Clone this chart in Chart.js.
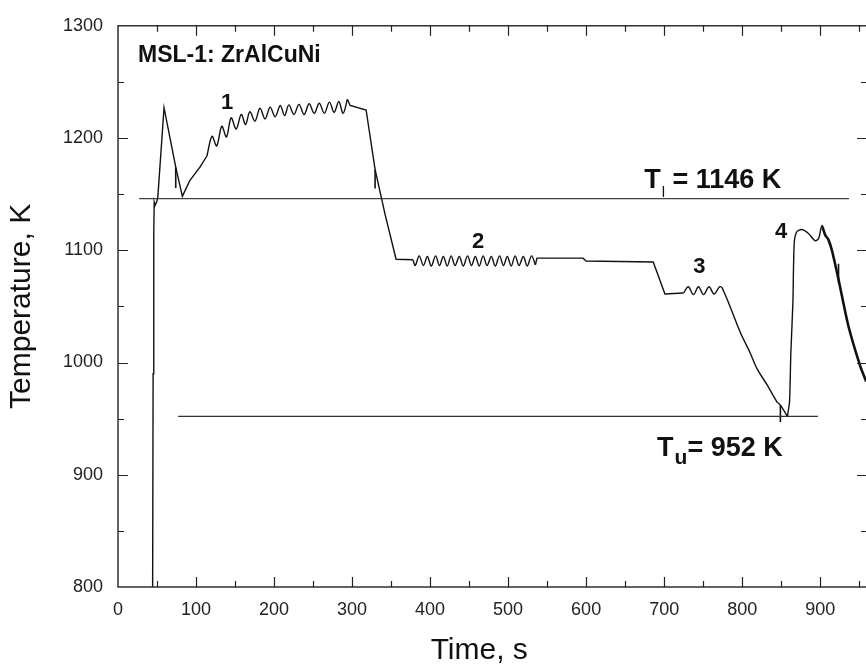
<!DOCTYPE html>
<html>
<head>
<meta charset="utf-8">
<script src="https://cdn.jsdelivr.net/npm/chart.js@4.4.1/dist/chart.umd.min.js"></script>
<style>
  html, body { margin: 0; padding: 0; background: #fff; overflow: hidden; }
  #wrap { width: 880px; height: 668px; }
</style>
</head>
<body>
<div id="wrap"><canvas id="msl1" width="880" height="668"></canvas></div>
<script>
// MSL-1 ZrAlCuNi sample temperature history, [time s, temperature K]
const rampUp = [
  [44.4, 800], [45, 990], [45.6, 1060], [46.1, 1116], [46.4, 1143], [47.5, 1140],
  [49.5, 1143], [51, 1147], [59, 1227], [74, 1174], [82.5, 1148], [92, 1162],
  [105, 1174], [114, 1184]
];
// stage 1: pulsed heating above liquidus
const hold1 = [
  [120.5, 1201.5], [126.5, 1193], [133, 1210.5], [139, 1201], [145, 1218], [151.5, 1208],
  [158, 1221], [163.5, 1212], [169, 1223.5], [175.5, 1215], [182, 1226.5], [188.5, 1217],
  [195, 1227.5], [201.5, 1219], [208, 1229], [213.5, 1220], [219, 1229.5], [225.5, 1221],
  [232, 1230], [238.5, 1221], [245, 1230.5], [251.5, 1222], [258, 1231], [264.5, 1222],
  [271, 1232], [277, 1223], [283, 1232.5], [288.5, 1222], [294, 1234.5]
];
const coolTo2 = [
  [297.5, 1229], [318, 1225], [329.5, 1172], [342.3, 1132], [356.4, 1092], [378, 1091.5]
];
// stage 2
const hold2 = [
  [381, 1086.5], [386, 1095], [391.5, 1086.5], [396.5, 1094.5], [401.5, 1086], [407, 1095],
  [412, 1086.5], [417, 1094.5], [422, 1086], [427, 1095], [432, 1086.5], [437.5, 1094.5],
  [442.5, 1086], [448, 1095], [453, 1086.5], [458, 1094.5], [463, 1086], [468, 1095],
  [473, 1086.5], [478.5, 1094.5], [483.5, 1086], [489, 1095], [494, 1086.5], [499, 1094.5],
  [504, 1086], [509, 1095], [514, 1086.5], [519.5, 1094.5], [524.5, 1086], [530, 1095],
  [535, 1087]
];
const coolTo3 = [
  [537, 1093], [596, 1093], [600, 1090.5], [686, 1089.5], [701, 1061], [725, 1062]
];
// stage 3
const hold3 = [
  [731, 1067.5], [737.5, 1060.5], [744, 1067.5], [750.5, 1060.5], [757.5, 1067.5],
  [764, 1061], [771, 1067.5], [774, 1067]
];
const freeCooling = [
  [781, 1056], [797.5, 1027], [810, 1009], [819, 994.5], [832, 980], [844.5, 965],
  [849, 962], [858, 952]
];
// stage 4: recalescence
const recalescence = [
  [860.7, 965], [862.4, 1009], [865, 1053], [866.7, 1106], [870, 1116.5], [876.5, 1118.5],
  [885, 1115], [893.5, 1108.5], [898, 1110.5], [902, 1121.5], [906.5, 1113.5], [910.5, 1109.5],
  [915, 1100], [923.5, 1074], [936, 1033], [951, 997.5], [959, 983]
];
// short vertical event marks on the trace: [time, from K, to K]
const eventMarks = [
  [74, 1174, 1155.5], [329.5, 1172, 1155], [849, 962, 947], [923.5, 1088, 1071]
];

const liquidusK = 1146;
const undercoolK = 952;
const liquidusSpan = [27, 937];
const undercoolSpan = [77, 897];

const stageNames = ['1', '2', '3', '4'];
const stageAt = [[139.7, 1231], [461.5, 1107], [745, 1085], [850, 1116]];

const FONT = "'Liberation Sans', Arial, Helvetica, sans-serif";
Chart.defaults.font.family = FONT;

// each piece of the trace is its own dataset so corners stay sharp
// while the oscillating holds are drawn smooth
const pieces = [
  [rampUp, 0], [hold1, 0.35], [coolTo2, 0], [hold2, 0.35],
  [coolTo3, 0], [hold3, 0.35], [freeCooling, 0.3], [recalescence, 0.25]
];
const datasets = [];
let prev = null;
pieces.forEach(([pts, tension]) => {
  const data = (prev ? [prev] : []).concat(pts).map(p => ({x: p[0], y: p[1]}));
  prev = pts[pts.length - 1];
  datasets.push({
    data: data,
    borderColor: '#111',
    borderWidth: 1.4,
    pointRadius: 0,
    tension: tension,
    segment: {
      borderWidth: ctx => (ctx.p0.parsed.x >= 902 ? 2.6 : 1.4)
    }
  });
});
datasets.push({
  data: liquidusSpan.map(t => ({x: t, y: liquidusK})),
  borderColor: '#444',
  borderWidth: 1.3,
  pointRadius: 0
});
datasets.push({
  data: undercoolSpan.map(t => ({x: t, y: undercoolK})),
  borderColor: '#333',
  borderWidth: 1.3,
  pointRadius: 0
});
eventMarks.forEach(m => {
  datasets.push({
    data: [{x: m[0], y: m[1]}, {x: m[0], y: m[2]}],
    borderColor: '#111',
    borderWidth: 1.6,
    pointRadius: 0
  });
});

// box, inward ticks on all four sides, and the text annotations
const frameAndLabels = {
  id: 'frameAndLabels',
  afterDatasetsDraw(chart) {
    const {ctx, chartArea: a, scales: {x, y}} = chart;
    ctx.save();
    ctx.strokeStyle = '#222';
    ctx.lineWidth = 1.4;
    ctx.strokeRect(a.left, a.top, a.right - a.left, a.bottom - a.top);

    ctx.lineWidth = 1.2;
    ctx.beginPath();
    for (let v = 50; v < 960; v += 50) {
      const len = v % 100 === 0 ? 10 : 6;
      const px = Math.round(x.getPixelForValue(v)) + 0.5;
      ctx.moveTo(px, a.bottom); ctx.lineTo(px, a.bottom - len);
      ctx.moveTo(px, a.top); ctx.lineTo(px, a.top + len);
    }
    for (let v = 850; v < 1300; v += 50) {
      const len = v % 100 === 0 ? 10 : 6;
      const py = Math.round(y.getPixelForValue(v)) + 0.5;
      ctx.moveTo(a.left, py); ctx.lineTo(a.left + len, py);
      ctx.moveTo(a.right, py); ctx.lineTo(a.right - len, py);
    }
    ctx.stroke();

    ctx.fillStyle = '#111';
    ctx.textBaseline = 'alphabetic';
    ctx.textAlign = 'left';
    ctx.font = 'bold 23px ' + FONT;
    ctx.fillText('MSL-1: ZrAlCuNi', x.getPixelForValue(25.6), y.getPixelForValue(1267.4));

    ctx.font = 'bold 22px ' + FONT;
    ctx.textAlign = 'center';
    ctx.textBaseline = 'middle';
    stageNames.forEach((s, i) => {
      ctx.fillText(s, x.getPixelForValue(stageAt[i][0]), y.getPixelForValue(stageAt[i][1]));
    });

    // T with a subscript, then the value
    const subLabel = (t, base, sub, subFont, subDrop, rest) => {
      let px = x.getPixelForValue(t);
      const py = y.getPixelForValue(base);
      ctx.textAlign = 'left';
      ctx.textBaseline = 'alphabetic';
      ctx.font = 'bold 27px ' + FONT;
      ctx.fillText('T', px, py);
      px += ctx.measureText('T').width + 1;
      ctx.font = subFont;
      ctx.fillText(sub, px, py + subDrop);
      px += ctx.measureText(sub).width;
      ctx.font = 'bold 27px ' + FONT;
      ctx.fillText(rest, px, py);
    };
    subLabel(674.4, 1155.5, 'l', '15px ' + FONT, 9, ' = ' + liquidusK + ' K');
    subLabel(691, 916.7, 'u', 'bold 21px ' + FONT, 8, '= ' + undercoolK + ' K');

    // x axis title, centred under the full frame width
    ctx.font = '30px ' + FONT;
    ctx.textAlign = 'center';
    ctx.textBaseline = 'middle';
    ctx.fillText('Time, s', x.getPixelForValue(463), 651);
    ctx.restore();
  }
};

new Chart(document.getElementById('msl1'), {
  type: 'line',
  data: {datasets: datasets},
  options: {
    responsive: false,
    animation: false,
    layout: {padding: {top: 20, right: 13, left: 0, bottom: 0}},
    plugins: {legend: {display: false}, tooltip: {enabled: false}},
    scales: {
      x: {
        type: 'linear',
        min: 0,
        max: 960,
        afterFit: s => { s.height = 81; },
        grid: {display: false, drawTicks: false},
        border: {display: false},
        ticks: {
          stepSize: 100,
          includeBounds: false,
          padding: 12,
          maxRotation: 0,
          autoSkip: false,
          color: '#222',
          font: {size: 18},
          callback: v => String(v)
        }
      },
      y: {
        type: 'linear',
        min: 800,
        max: 1300,
        afterFit: s => { s.width = 118; },
        grid: {display: false, drawTicks: false},
        border: {display: false},
        ticks: {
          stepSize: 100,
          padding: 15,
          color: '#222',
          font: {size: 18},
          callback: v => String(v)
        },
        title: {
          display: true,
          text: 'Temperature, K',
          color: '#111',
          font: {size: 30, lineHeight: 1},
          padding: {top: 7, bottom: 0}
        }
      }
    }
  },
  plugins: [frameAndLabels]
});
</script>
</body>
</html>
